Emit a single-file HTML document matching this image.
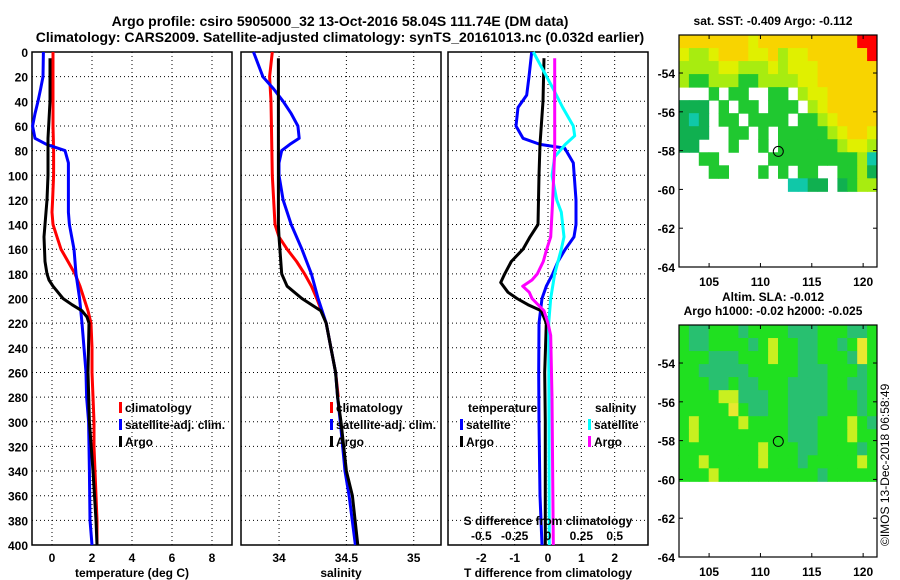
<!DOCTYPE html>
<html><head><meta charset="utf-8">
<style>
html,body{margin:0;padding:0;background:#fff;}
svg{display:block;font-family:"Liberation Sans",sans-serif;font-weight:bold;}
text{fill:#000;}
</style></head>
<body>
<svg id="fig" width="900" height="580" viewBox="0 0 900 580" xmlns="http://www.w3.org/2000/svg">
<text x="340" y="26" font-size="14" text-anchor="middle">Argo profile: csiro 5905000_32 13-Oct-2016 58.04S 111.74E (DM data)</text>
<text x="340" y="42" font-size="14" text-anchor="middle">Climatology: CARS2009. Satellite-adjusted climatology: synTS_20161013.nc (0.032d earlier)</text>
<g id="panels"></g>
<text x="773" y="25" font-size="12" text-anchor="middle">sat. SST: -0.409 Argo: -0.112</text>
<text x="773" y="301" font-size="12" text-anchor="middle">Altim. SLA: -0.012</text>
<text x="773" y="315" font-size="12" text-anchor="middle">Argo h1000: -0.02 h2000: -0.025</text>
<text transform="translate(889,546) rotate(-90)" font-size="12" font-weight="normal">©IMOS 13-Dec-2018 06:58:49</text>
</svg>
<script>
// ---- depth axis
const depthTicks = [0,20,40,60,80,100,120,140,160,180,200,220,240,260,280,300,320,340,360,380,400];
// ---- temperature panel
const tempTicks = [0,2,4,6,8];
const tClimDepth = [0,20,40,60,80,100,120,130,140,150,160,170,180,190,200,210,220,240,260,280,300,320,340,360,380,400];
const tClimVal = [0.05,0.05,0.05,0.05,0.08,0.08,0.03,0.0,0.05,0.25,0.45,0.8,1.15,1.4,1.6,1.8,1.95,2.0,2.0,2.05,2.1,2.1,2.15,2.2,2.25,2.25];
const tSatDepth = [0,20,30,40,50,60,70,75,80,90,100,130,140,160,180,200,220,260,280,300,340,380,400];
const tSatVal = [-0.43,-0.45,-0.57,-0.7,-0.85,-0.97,-0.85,-0.27,0.65,0.82,0.82,0.82,0.87,1.1,1.2,1.38,1.5,1.7,1.73,1.83,1.87,1.9,2.0];
const tArgoDepth = [5,40,70,100,120,140,150,170,180,185,190,195,200,205,210,215,220,260,300,340,380,400];
const tArgoVal = [-0.1,-0.1,-0.2,-0.2,-0.25,-0.35,-0.4,-0.35,-0.25,-0.15,0.05,0.3,0.55,1.0,1.5,1.75,1.85,1.8,1.87,2.05,2.2,2.25];
// ---- salinity panel
const salTicks = [34,34.5,35];
const sClimDepth = [0,20,40,100,140,150,160,170,180,190,200,220,260,280];
const sClimVal = [33.95,33.93,33.94,33.95,33.97,34.0,34.06,34.13,34.19,34.24,34.28,34.35,34.42,34.44];
const sSatDepth = [0,20,30,40,50,60,70,75,80,90,100,120,140,160,180,200,220,260,280,300,340,360,400];
const sSatVal = [33.81,33.88,33.96,34.03,34.09,34.14,34.15,34.08,34.02,34.0,34.0,34.03,34.09,34.17,34.24,34.29,34.35,34.42,34.435,34.455,34.49,34.52,34.567];
const sArgoDepth = [5,140,150,180,190,200,210,220,260,280,300,340,360,400];
const sArgoVal = [33.995,33.995,34.0,34.02,34.06,34.17,34.31,34.35,34.42,34.435,34.46,34.5,34.545,34.585];
// ---- difference panel
const tDiffTicks = [-2,-1,0,1,2];
const sDiffTicks = [-0.5,-0.25,0,0.25,0.5];
const sDiffTickLabels = ["-0.5","-0.25","0","0.25","0.5"];
const dTArgoDepth = [5,40,75,100,140,150,160,170,180,187,195,200,205,210,220,260,300,400];
const dTArgoVal = [-0.12,-0.15,-0.24,-0.27,-0.3,-0.54,-0.75,-1.1,-1.3,-1.42,-1.2,-0.93,-0.6,-0.2,-0.05,-0.1,-0.08,-0.08];
const dTSatDepth = [0,20,35,45,60,70,75,78,90,120,140,150,160,170,180,190,200,220,260,300,360,400];
const dTSatVal = [-0.49,-0.57,-0.64,-0.9,-0.96,-0.75,-0.24,0.5,0.76,0.84,0.84,0.78,0.52,0.3,0.14,-0.05,-0.18,-0.27,-0.28,-0.27,-0.24,-0.18];
const dSSatDepth = [0,10,30,45,60,68,75,85,100,120,130,150,160,180,200,220,400];
const dSSatVal = [-0.11,-0.06,0.04,0.11,0.19,0.2,0.13,0.05,0.03,0.065,0.1,0.12,0.1,0.05,0.02,0.005,0.01];
const dSArgoDepth = [5,80,120,150,160,170,180,185,190,195,200,210,220,230,280,400];
const dSArgoVal = [0.05,0.05,0.035,0.02,-0.01,-0.035,-0.08,-0.12,-0.19,-0.14,-0.12,-0.03,0.0,0.02,0.03,0.04];
// ---- maps
const latTicks = [-54,-56,-58,-60,-62,-64];
const lonTicks = [105,110,115,120];
const sstGrid = [
"oooooooyoooooooooorr",
"yllyoooyyolyyoooooor",
"llllyylllylyyyoooooo",
"lgglllggllllyyoooooo",
"...g.gg..gg.lyyooooo",
"ddd.g.gg.ggg.lyooooo",
"dtd.gg.gggg.gglyoooo",
"ddd..gg.g.ggggglyooy",
"dd...g..g.gggggglyyl",
"..gg.....ggggggggglt",
"...gg...g.g.gg..ggld",
"...........ttdd.dgll"];
const slaGrid = [
"gmmgggmggggmmmgggmmg",
"gmmggggmgyggmmggmgYg",
"gggmmmgggyggmmgggmYg",
"ggmmmmmgggggmmmgggmg",
"gggmmgmmgggmmmmggmmg",
"ggggyymmmggmmmmgggmg",
"gggggYgmmggmmmmgggmg",
"gyggggyggggmmmgggygm",
"gygggggggggmmmgggygg",
"ggggggggygggmmggggmg",
"ggygggggygggmgggggyg",
"gggyggggggggggmggggg"];
const argoLon = 111.74, argoLat = -58.04;

const NS = "http://www.w3.org/2000/svg";
const root = document.getElementById("panels");
function el(tag, attrs, parent){const e=document.createElementNS(NS,tag);for(const k in attrs)e.setAttribute(k,attrs[k]);(parent||root).appendChild(e);return e;}
function txt(x,y,s,size,anchor,parent){const t=el("text",{x:x,y:y,"font-size":size,"text-anchor":anchor||"middle"},parent);t.textContent=s;return t;}

const Y0=52, Y1=545;
const yD = d => Y0 + (d/400)*(Y1-Y0);

function panel(name, x0, x1, vmin, vmax){
  const g = el("g",{});
  
  
  const xs = v => x0 + (v-vmin)/(vmax-vmin)*(x1-x0);
  return {g, xs, x0, x1};
}
function frame(p, xTicks){
  depthTicks.forEach(d=>{
    const l=el("line",{x1:p.x0,x2:p.x1,y1:yD(d),y2:yD(d),stroke:"#000","stroke-width":1,"stroke-dasharray":"1,3"},p.g);
    
    
  });
  xTicks.forEach(v=>{
    const l=el("line",{x1:p.xs(v),x2:p.xs(v),y1:Y0,y2:Y1,stroke:"#000","stroke-width":1,"stroke-dasharray":"1,3"},p.g);
    
    
  });
  const r=el("rect",{x:p.x0,y:Y0,width:p.x1-p.x0,height:Y1-Y0,fill:"none",stroke:"#000","stroke-width":1.5},p.g);
  
  
}
function series(p, depths, vals, color, xs, name){
  const pts = depths.map((d,i)=>xs(vals[i]).toFixed(1)+","+yD(d).toFixed(1)).join(" ");
  const pl = el("polyline",{points:pts,fill:"none",stroke:color,"stroke-width":3,"stroke-linejoin":"round"},p.g);
  
  
}
function legend(p, x, y, color, label, name){
  const r=el("rect",{x:x,y:y-10,width:3,height:11,fill:color},p.g);
  
  
  const t=txt(x+6,y,label,12,"start",p.g);
  
  
}

// depth labels
depthTicks.forEach(d=>{
  const t=txt(28,yD(d)+5,String(d),12,"end");
  
  
});

// Panel 1 temperature
const p1 = panel("temperature-panel",32,232,-1,9);
frame(p1,tempTicks);
series(p1,tClimDepth,tClimVal,"#f00",p1.xs,"temp-climatology-line");
series(p1,tSatDepth,tSatVal,"#00f",p1.xs,"temp-satellite-adj-line");
series(p1,tArgoDepth,tArgoVal,"#000",p1.xs,"temp-argo-line");
tempTicks.forEach(v=>{const t=txt(p1.xs(v),562,String(v),12,"middle");});
(function(){const t=txt(132,577,"temperature (deg C)",12,"middle");})();
legend(p1,119,412,"#f00","climatology","legend-climatology");
legend(p1,119,429,"#00f","satellite-adj. clim.","legend-satellite-adj");
legend(p1,119,446,"#000","Argo","legend-argo");

// Panel 2 salinity
const p2 = panel("salinity-panel",241,441,33.7175,35.2025);
frame(p2,salTicks);
series(p2,sClimDepth,sClimVal,"#f00",p2.xs,"sal-climatology-line");
series(p2,sSatDepth,sSatVal,"#00f",p2.xs,"sal-satellite-adj-line");
series(p2,sArgoDepth,sArgoVal,"#000",p2.xs,"sal-argo-line");
salTicks.forEach(v=>{const t=txt(p2.xs(v),562,String(v),12,"middle");});
(function(){const t=txt(341,577,"salinity",12,"middle");})();
legend(p2,330,412,"#f00","climatology","legend-sal-climatology");
legend(p2,330,429,"#00f","satellite-adj. clim.","legend-sal-satellite-adj");
legend(p2,330,446,"#000","Argo","legend-sal-argo");

// Panel 3 differences
const p3 = panel("difference-panel",448,648,-3,3);
const sx = v => p3.xs(v*4);
frame(p3,tDiffTicks);
series(p3,dTSatDepth,dTSatVal,"#00f",p3.xs,"tdiff-satellite-line");
series(p3,dTArgoDepth,dTArgoVal,"#000",p3.xs,"tdiff-argo-line");
series(p3,dSSatDepth,dSSatVal,"#0ff",sx,"sdiff-satellite-line");
series(p3,dSArgoDepth,dSArgoVal,"#f0f",sx,"sdiff-argo-line");
tDiffTicks.forEach(v=>{const t=txt(p3.xs(v),562,String(v),12,"middle");});
sDiffTicks.forEach((v,i)=>{const t=txt(sx(v),540,sDiffTickLabels[i],12,"middle",p3.g);});
(function(){
  let t=txt(548,525,"S difference from climatology",12,"middle",p3.g);
  t=txt(548,577,"T difference from climatology",12,"middle");
  t=txt(468,412,"temperature",12,"start",p3.g);
  t=txt(595,412,"salinity",12,"start",p3.g);
})();
legend(p3,460,429,"#00f","satellite","legend-tdiff-satellite");
legend(p3,460,446,"#000","Argo","legend-tdiff-argo");
legend(p3,588,429,"#0ff","satellite","legend-sdiff-satellite");
legend(p3,588,446,"#f0f","Argo","legend-sdiff-argo");

// Maps
const colors = {o:"#f8d400",y:"#e0f000",l:"#a8ec10",g:"#20c830",d:"#10b050",t:"#10c8a8",r:"#ff0000",m:"#30c878",Y:"#f0e030"};
const slaColors = {g:"#20e020",m:"#28c070",y:"#c8f020",Y:"#e8e830"};
function map(name, top, grid, cmap){
  const g = el("g",{});
  
  
  const L=679,R=877,B=top+232;
  const lonMin=102.07, lonMax=121.35, latTop=-52.04, latBot=-64;
  const xm = lon => L + (lon-lonMin)/(lonMax-lonMin)*(R-L);
  const ym = lat => top + (latTop-lat)/(latTop-latBot)*(B-top);
  const rows=grid.length, cols=grid[0].length;
  const cw=(R-L)/cols, ch=(ym(-60.1)-top)/rows;
  grid.forEach((row,i)=>{
    for(let j=0;j<cols;j++){
      const c=row[j]; if(c===".") continue;
      const r=el("rect",{x:L+j*cw,y:top+i*ch,width:cw+0.5,height:ch+0.5,fill:cmap[c]},g);
      
      
    }
  });
  const f=el("rect",{x:L,y:top,width:R-L,height:B-top,fill:"none",stroke:"#000","stroke-width":1.2},g);
  
  
  latTicks.forEach(v=>{
    el("line",{x1:L,x2:L+4,y1:ym(v),y2:ym(v),stroke:"#000"},g);
    el("line",{x1:R,x2:R-4,y1:ym(v),y2:ym(v),stroke:"#000"},g);
    const t=txt(L-4,ym(v)+5,String(v),12,"end",g);
    
    
  });
  lonTicks.forEach(v=>{
    el("line",{x1:xm(v),x2:xm(v),y1:B,y2:B-4,stroke:"#000"},g);
    el("line",{x1:xm(v),x2:xm(v),y1:top,y2:top+4,stroke:"#000"},g);
    const t=txt(xm(v),B+19,String(v),12,"middle",g);
    
    
  });
  const c=el("circle",{cx:xm(argoLon),cy:ym(argoLat),r:5,fill:"none",stroke:"#000","stroke-width":1},g);
  
  
}
map("sst-map",35,sstGrid,colors);
map("sla-map",325,slaGrid,slaColors);
</script>
</body></html>
